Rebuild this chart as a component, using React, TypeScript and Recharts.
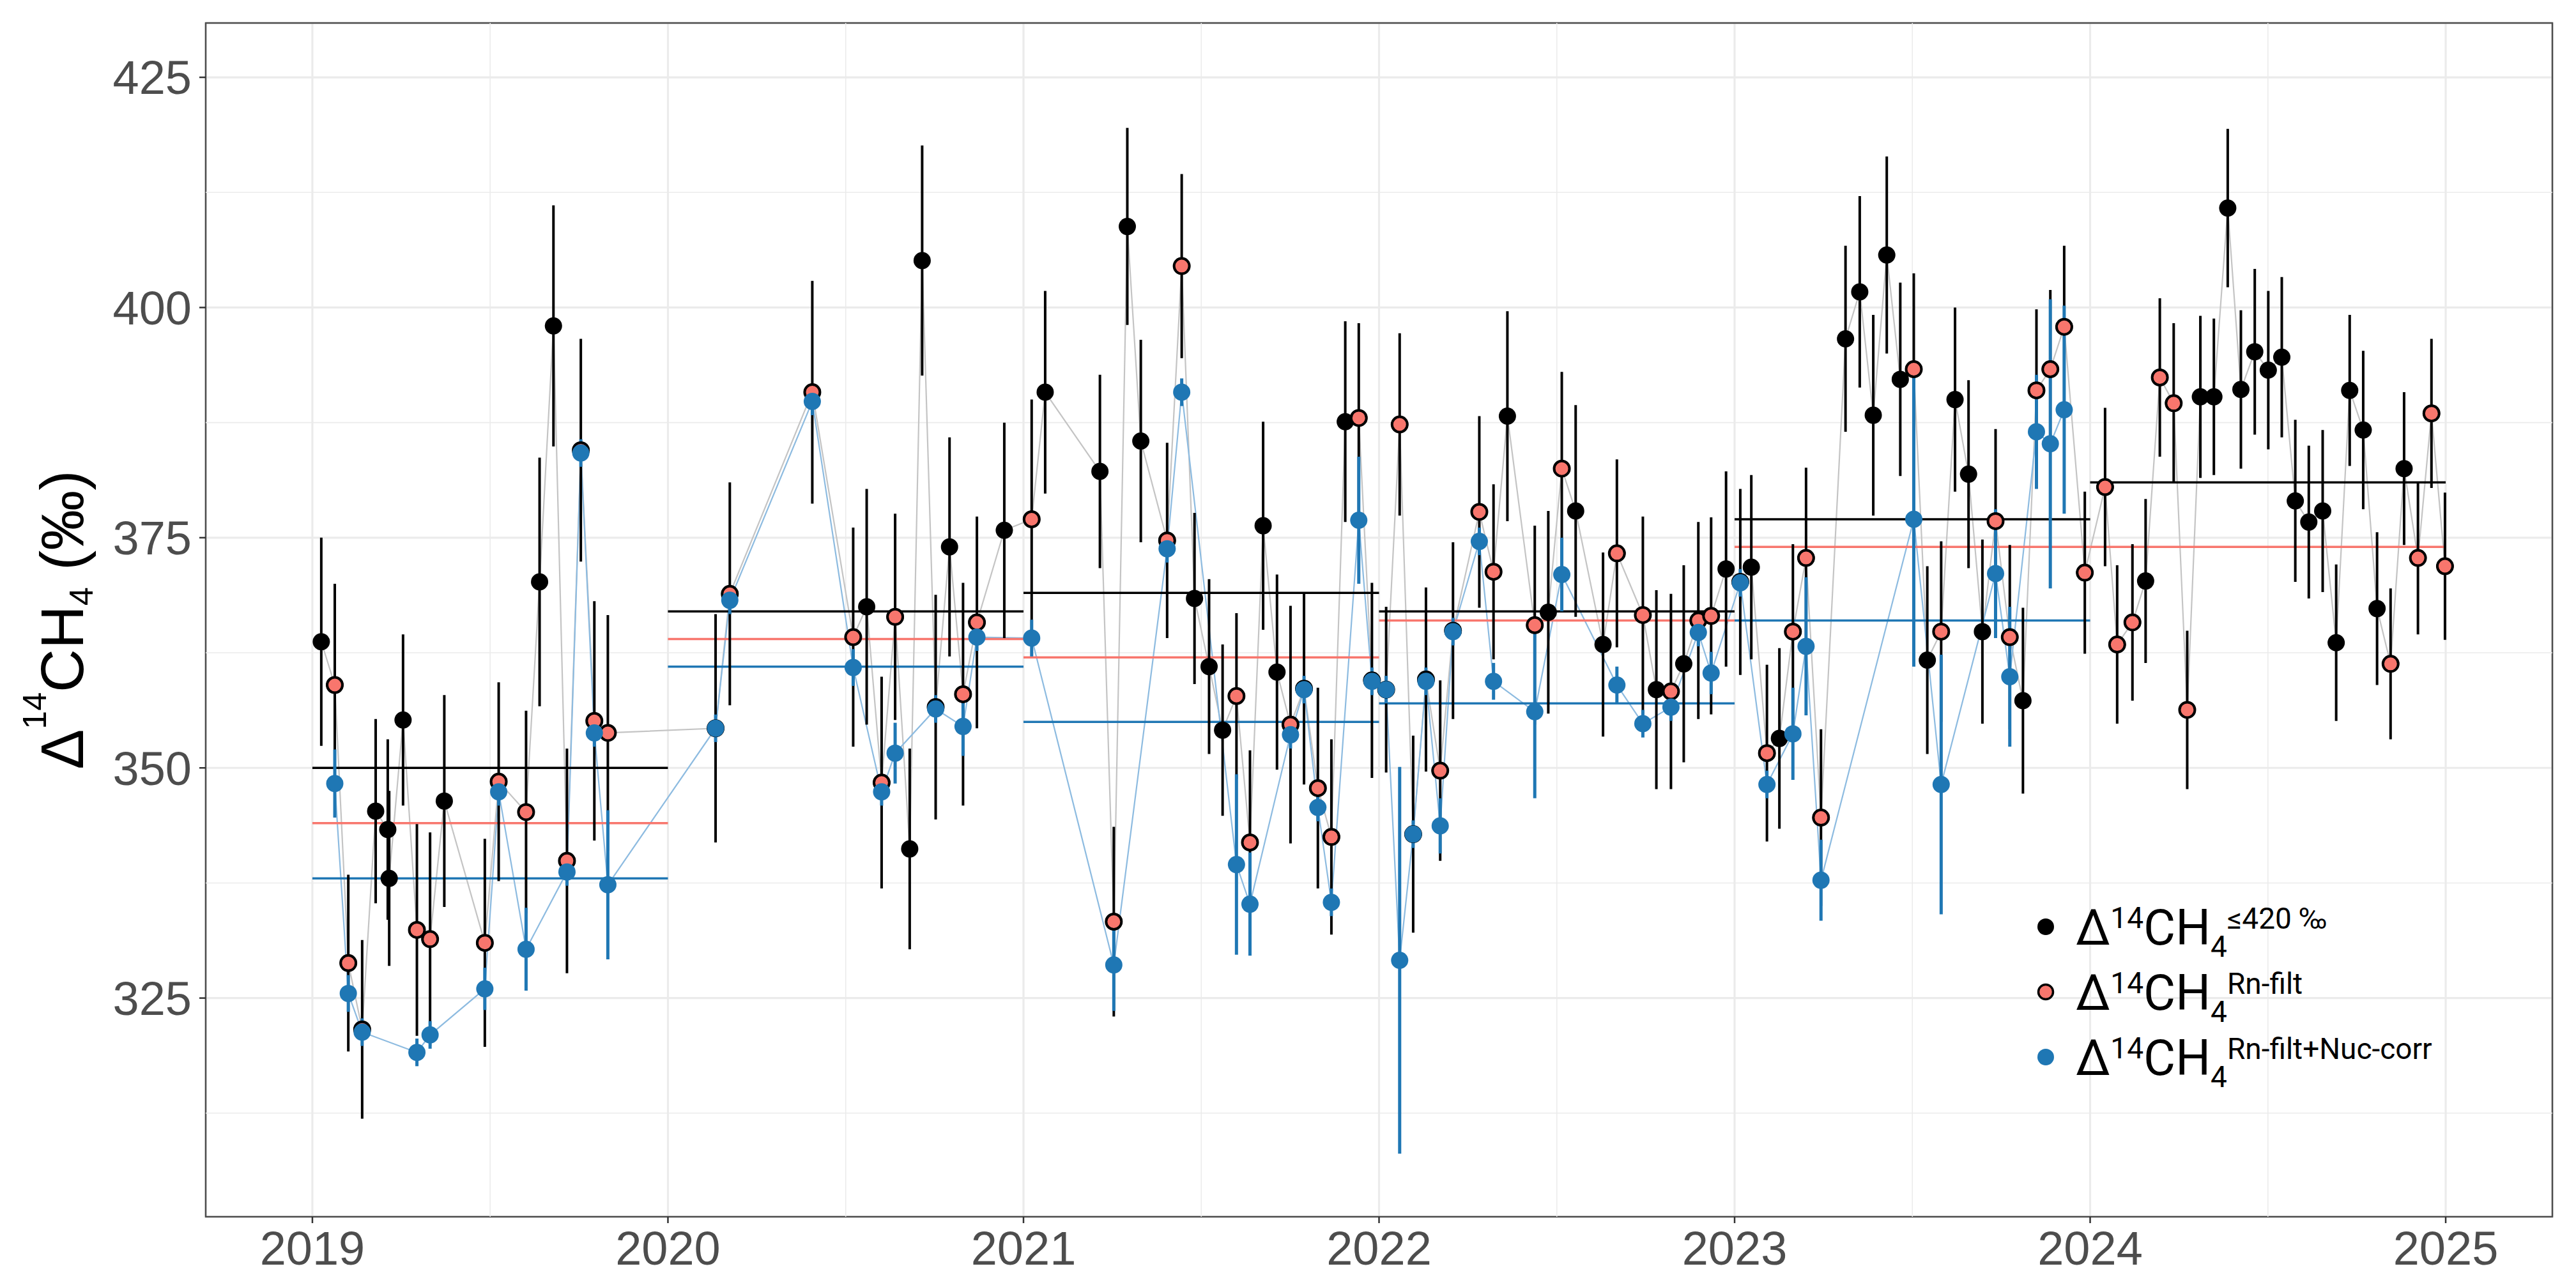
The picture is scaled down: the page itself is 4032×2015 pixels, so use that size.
import {
  CartesianGrid,
  ComposedChart,
  ErrorBar,
  Line,
  ReferenceArea,
  ReferenceLine,
  Scatter,
  XAxis,
  YAxis,
} from "recharts";

// all samples (Δ14CH4 ≤ 420 ‰), decimal year / value / 1σ
const sampleDate = [
  2019.025, 2019.063, 2019.101, 2019.14, 2019.178, 2019.212, 2019.216, 2019.255, 2019.294, 2019.331,
  2019.371, 2019.485, 2019.524, 2019.601, 2019.639, 2019.678, 2019.716, 2019.755, 2019.793, 2019.831,
  2020.134, 2020.174, 2020.406, 2020.521, 2020.559, 2020.601, 2020.639, 2020.68, 2020.715, 2020.753,
  2020.792, 2020.83, 2020.869, 2020.946,
  2021.023, 2021.061, 2021.215, 2021.254, 2021.292, 2021.33, 2021.404, 2021.445, 2021.481, 2021.522,
  2021.56, 2021.599, 2021.637, 2021.674, 2021.713, 2021.751, 2021.789, 2021.828, 2021.866, 2021.905,
  2021.943, 2021.98,
  2022.02, 2022.058, 2022.096, 2022.132, 2022.172, 2022.208, 2022.282, 2022.322, 2022.361, 2022.438,
  2022.476, 2022.514, 2022.553, 2022.63, 2022.669, 2022.742, 2022.78, 2022.821, 2022.857, 2022.898,
  2022.934, 2022.976,
  2023.016, 2023.047, 2023.091, 2023.126, 2023.164, 2023.201, 2023.243, 2023.312, 2023.352, 2023.39,
  2023.428, 2023.466, 2023.504, 2023.542, 2023.581, 2023.62, 2023.658, 2023.697, 2023.734, 2023.774,
  2023.811, 2023.849, 2023.888, 2023.927, 2023.985,
  2024.042, 2024.076, 2024.119, 2024.156, 2024.196, 2024.235, 2024.273, 2024.31, 2024.348, 2024.387,
  2024.424, 2024.463, 2024.501, 2024.539, 2024.577, 2024.615, 2024.654, 2024.692, 2024.73, 2024.768,
  2024.807, 2024.845, 2024.883, 2024.922, 2024.96, 2024.998,
];
const sampleValue = [
  363.7, 359.0, 328.8, 321.6, 345.3, 343.3, 338.0, 355.2, 332.4, 331.4,
  346.4, 331.0, 348.5, 345.2, 370.2, 398.0, 339.9, 384.5, 355.1, 353.8,
  354.3, 368.9, 390.8, 364.2, 367.5, 348.4, 366.4, 341.2, 405.1, 356.6,
  374.0, 358.0, 365.8, 375.8,
  377.0, 390.8, 382.2, 333.3, 408.8, 385.5, 374.7, 404.5, 368.4, 361.0,
  354.1, 357.8, 341.9, 376.3, 360.4, 354.7, 358.6, 347.8, 342.5, 387.6,
  388.0, 359.5,
  358.5, 387.3, 342.8, 359.6, 349.7, 364.9, 377.8, 371.3, 388.2, 365.5,
  366.9, 382.5, 377.9, 363.4, 373.3, 366.6, 358.5, 358.3, 361.3, 366.0,
  366.5, 371.6,
  370.2, 371.8, 351.6, 353.2, 364.8, 372.8, 344.6, 396.6, 401.7, 388.3,
  405.7, 392.2, 393.3, 361.7, 364.8, 390.0, 381.9, 364.8, 376.8, 364.2,
  357.3, 391.0, 393.3, 397.9, 371.2,
  380.5, 363.4, 365.8, 370.3, 392.4, 389.6, 356.3, 390.3, 390.3, 410.8,
  391.1, 395.2, 393.2, 394.6, 379.0, 376.7, 377.9, 363.6, 391.0, 386.7,
  367.3, 361.3, 382.5, 372.8, 388.5, 371.9,
];
const sampleError = [
  11.3, 11.0, 9.6, 9.7, 10.0, 9.8, 9.5, 9.3, 11.5, 11.6,
  11.5, 11.3, 10.8, 11.0, 13.5, 13.1, 12.2, 12.1, 13.0, 12.8,
  12.4, 12.1, 12.1, 11.9, 12.8, 11.5, 11.2, 10.9, 12.5, 12.2,
  11.9, 12.1, 11.5, 11.7,
  13.0, 11.0, 10.5, 10.3, 10.7, 11.0, 10.6, 10.0, 9.3, 9.5,
  9.3, 9.0, 10.0, 11.3, 10.6, 12.9, 10.4, 10.9, 10.6, 10.9,
  10.3, 10.6,
  9.0, 9.9, 10.7, 10.0, 9.8, 9.6, 10.4, 9.5, 11.4, 10.8,
  11.0, 10.5, 11.5, 10.0, 10.2, 10.7, 10.8, 10.6, 10.7, 10.7,
  10.7, 10.6,
  10.1, 10.0, 9.6, 9.8, 9.5, 9.8, 9.6, 10.1, 10.4, 10.9,
  10.7, 10.5, 10.4, 10.2, 9.8, 10.0, 10.2, 10.0, 10.0, 10.0,
  10.1, 8.8, 8.6, 8.8, 8.8,
  8.6, 8.6, 8.5, 8.9, 8.6, 8.7, 8.6, 8.8, 8.5, 8.6,
  8.6, 9.0, 8.6, 8.7, 8.8, 8.3, 8.8, 8.5, 8.2, 8.6,
  8.3, 8.2, 8.3, 8.3, 8.1, 8.0,
];
// 1 = kept by the radon filter
const rnFlag = [
  0, 1, 1, 1, 0, 0, 0, 0, 1, 1, 0, 1, 1, 1, 0, 0, 1, 1, 1, 1,
  1, 1, 1, 1, 0, 1, 1, 0, 0, 1, 0, 1, 1, 0,
  1, 0, 0, 1, 0, 0, 1, 1, 0, 0, 0, 1, 1, 0, 0, 1, 1, 1, 1, 0, 1, 1,
  1, 1, 1, 1, 1, 1, 1, 1, 0, 1, 0, 1, 0, 0, 1, 1, 0, 1, 0, 1, 1, 0,
  1, 0, 1, 0, 1, 1, 1, 0, 0, 0, 0, 0, 1, 0, 1, 0, 0, 0, 1, 1, 0, 1, 1, 1, 1,
  1, 1, 1, 0, 1, 1, 1, 0, 0, 0, 0, 0, 0, 0, 0, 0, 0, 0, 0, 0, 0, 1, 0, 1, 1, 1,
];

// Rn-filtered + nuclear-corrected values
const corrDate = [
  2019.063, 2019.101, 2019.14, 2019.294, 2019.331, 2019.485, 2019.524, 2019.601, 2019.716, 2019.755,
  2019.793, 2019.831,
  2020.134, 2020.174, 2020.406, 2020.521, 2020.601, 2020.639, 2020.753, 2020.83, 2020.869,
  2021.023, 2021.254, 2021.404, 2021.445, 2021.599, 2021.637, 2021.751, 2021.789, 2021.828, 2021.866,
  2021.943, 2021.98,
  2022.02, 2022.058, 2022.096, 2022.132, 2022.172, 2022.208, 2022.282, 2022.322, 2022.438, 2022.514,
  2022.669, 2022.742, 2022.821, 2022.898, 2022.934,
  2023.016, 2023.091, 2023.164, 2023.201, 2023.243, 2023.504, 2023.581, 2023.734, 2023.774, 2023.849,
  2023.888, 2023.927,
];
const corrValue = [
  348.3, 325.5, 321.3, 319.1, 321.0, 326.0, 347.4, 330.3, 338.7, 384.2,
  353.8, 337.3,
  354.3, 368.2, 389.8, 360.9, 347.4, 351.6, 356.4, 354.5, 364.2,
  364.1, 328.6, 373.8, 390.8, 339.5, 335.2, 353.6, 358.5, 345.7, 335.4,
  376.9, 359.4,
  358.5, 329.1, 342.8, 359.4, 343.7, 364.8, 374.6, 359.4, 356.1, 371.0,
  359.0, 354.8, 356.6, 364.7, 360.3,
  370.1, 348.2, 353.7, 363.2, 337.8, 377.0, 348.2, 371.1, 359.9, 386.5,
  385.2, 388.9,
];
const corrError = [
  3.7, 2.0, 1.5, 1.5, 1.5, 2.3, 1.5, 4.5, 1.5, 1.5,
  1.5, 8.1,
  1.5, 1.5, 1.5, 2.0, 1.5, 3.3, 1.5, 3.2, 1.5,
  2.0, 5.0, 1.5, 1.5, 9.8, 5.6, 1.5, 1.5, 1.5, 1.5,
  6.9, 1.5,
  1.5, 21.0, 1.5, 1.5, 3.0, 1.5, 1.5, 2.0, 9.4, 4.0,
  2.0, 1.5, 1.5, 1.5, 2.3,
  1.5, 1.5, 5.0, 7.5, 4.4, 16.0, 14.1, 7.0, 7.6, 6.2,
  15.7, 11.3,
];

// annual means
const meanYear = [2019, 2020, 2021, 2022, 2023, 2024];
const meanAll = [350, 367, 369, 367, 377, 381];
const meanRn = [344, 364, 362, 366, 374, 374];
const meanCorr = [338, 361, 355, 357, 366, null];

const xTicks = [2019, 2020, 2021, 2022, 2023, 2024, 2025];
const yTicks = [325, 350, 375, 400, 425];
const xMinor = [2019.5, 2020.5, 2021.5, 2022.5, 2023.5, 2024.5];
const yMinor = [312.5, 337.5, 362.5, 387.5, 412.5];

const legendSup = ["≤420 ‰", "Rn-filt", "Rn-filt+Nuc-corr"];

const W = 4032;
const H = 2015;
const X_DOMAIN: [number, number] = [2018.7, 2025.3];
const Y_DOMAIN: [number, number] = [301.25, 430.9];

const SALMON = "#F8766D";
const BLUE = "#1F77B4";
const GRID = "#EBEBEB";
const R = 13.5;

const samples = sampleDate.map((t, i) => ({ t, v: sampleValue[i], e: sampleError[i] }));
const rnSamples = samples.filter((_, i) => rnFlag[i] === 1);
const corrSamples = corrDate.map((t, i) => ({ t, v: corrValue[i], e: corrError[i] }));

const tickFont = { fill: "#4D4D4D", fontSize: 74, fontFamily: "Liberation Sans, Arial, sans-serif" };
const tickLine = { stroke: "#333333", strokeWidth: 2.5 };

function YTitle(props: any) {
  const vb = props.viewBox ?? { x: 72, y: 36, width: 250, height: 1869 };
  const x = vb.x + 58;
  const y = vb.y + vb.height / 2;
  return (
    <text
      x={x}
      y={y}
      transform={`rotate(-90, ${x}, ${y})`}
      textAnchor="middle"
      fontSize={94}
      fontFamily="Liberation Sans, Arial, sans-serif"
      fill="#000"
    >
      Δ
      <tspan dy={-58} fontSize={52}>14</tspan>
      <tspan dy={58}>CH</tspan>
      <tspan dy={15} fontSize={52}>4</tspan>
      <tspan dy={-15}> (‰)</tspan>
    </text>
  );
}

function Legend() {
  const cx = 3202;
  const tx = 3249;
  const base = 1479;
  const gap = 102;
  const marks = [
    { fill: "#000", stroke: "none" },
    { fill: SALMON, stroke: "#000" },
    { fill: BLUE, stroke: "none" },
  ];
  return (
    <svg
      width={W}
      height={H}
      style={{ position: "absolute", left: 0, top: 0, pointerEvents: "none" }}
    >
      {legendSup.map((sup, i) => {
        const y = base + i * gap;
        return (
          <g key={sup}>
            <circle
              cx={cx}
              cy={y - 28}
              r={marks[i].stroke === "none" ? 13 : 11.5}
              fill={marks[i].fill}
              stroke={marks[i].stroke}
              strokeWidth={3.5}
            />
            <text x={tx} y={y} fontSize={77} fontFamily="Roboto, sans-serif" fill="#000">
              Δ
              <tspan dy={-26} fontSize={46}>14</tspan>
              <tspan dy={26}>CH</tspan>
              <tspan dy={19} fontSize={46}>4</tspan>
              <tspan dy={-44} fontSize={46}>{sup}</tspan>
            </text>
          </g>
        );
      })}
    </svg>
  );
}

const dot = (fill: string, stroke?: string) => (p: any) =>
  (
    <circle
      cx={p.cx}
      cy={p.cy}
      r={stroke ? R - 1.5 : R}
      fill={fill}
      stroke={stroke ?? "none"}
      strokeWidth={4}
    />
  );

export default function App() {
  return (
    <div style={{ position: "relative", width: W, height: H, background: "#fff" }}>
      <style>{"body{margin:0}"}</style>
      <ComposedChart width={W} height={H} margin={{ top: 36, right: 37, bottom: 10, left: 72 }}>
        <CartesianGrid stroke={GRID} strokeWidth={3.2} />
        {xMinor.map((x) => (
          <ReferenceLine key={`mx${x}`} x={x} stroke={GRID} strokeWidth={1.6} />
        ))}
        {yMinor.map((y) => (
          <ReferenceLine key={`my${y}`} y={y} stroke={GRID} strokeWidth={1.6} />
        ))}
        <XAxis
          type="number"
          dataKey="t"
          domain={X_DOMAIN}
          allowDataOverflow
          ticks={xTicks}
          interval={0}
          tickFormatter={(v: number) => String(v)}
          height={100}
          tickSize={10}
          tickMargin={12}
          axisLine={false}
          tickLine={tickLine}
          tick={tickFont}
        />
        <YAxis
          type="number"
          dataKey="v"
          domain={Y_DOMAIN}
          allowDataOverflow
          ticks={yTicks}
          interval={0}
          width={250}
          tickSize={10}
          tickMargin={12}
          axisLine={false}
          tickLine={tickLine}
          tick={tickFont}
          label={<YTitle />}
        />
        <Line
          data={samples}
          dataKey="v"
          type="linear"
          stroke="#C4C4C4"
          strokeWidth={2.2}
          dot={false}
          activeDot={false}
          isAnimationActive={false}
        />
        <Line
          data={corrSamples}
          dataKey="v"
          type="linear"
          stroke="#8DBBE0"
          strokeWidth={2.2}
          dot={false}
          activeDot={false}
          isAnimationActive={false}
        />
        {meanYear.map((yr, i) => (
          <ReferenceLine
            key={`ma${yr}`}
            segment={[{ x: yr, y: meanAll[i] }, { x: yr + 1, y: meanAll[i] }]}
            stroke="#000"
            strokeWidth={3.5}
          />
        ))}
        {meanYear.map((yr, i) => (
          <ReferenceLine
            key={`mr${yr}`}
            segment={[{ x: yr, y: meanRn[i] }, { x: yr + 1, y: meanRn[i] }]}
            stroke={SALMON}
            strokeWidth={3.5}
          />
        ))}
        {meanYear.map((yr, i) =>
          meanCorr[i] == null ? null : (
            <ReferenceLine
              key={`mc${yr}`}
              segment={[{ x: yr, y: meanCorr[i] as number }, { x: yr + 1, y: meanCorr[i] as number }]}
              stroke={BLUE}
              strokeWidth={3.5}
            />
          )
        )}
        <Scatter data={samples} shape={dot("#000")} isAnimationActive={false}>
          <ErrorBar dataKey="e" direction="y" width={0} stroke="#000" strokeWidth={4} />
        </Scatter>
        <Scatter data={corrSamples} shape={() => <g />} isAnimationActive={false}>
          <ErrorBar dataKey="e" direction="y" width={0} stroke={BLUE} strokeWidth={5} />
        </Scatter>
        <Scatter data={rnSamples} shape={dot(SALMON, "#000")} isAnimationActive={false} />
        <Scatter data={corrSamples} shape={dot(BLUE)} isAnimationActive={false} />
        <ReferenceArea
          x1={X_DOMAIN[0]}
          x2={X_DOMAIN[1]}
          y1={Y_DOMAIN[0]}
          y2={Y_DOMAIN[1]}
          fill="none"
          stroke="#4D4D4D"
          strokeWidth={2.5}
          ifOverflow="visible"
        />
      </ComposedChart>
      <Legend />
    </div>
  );
}
